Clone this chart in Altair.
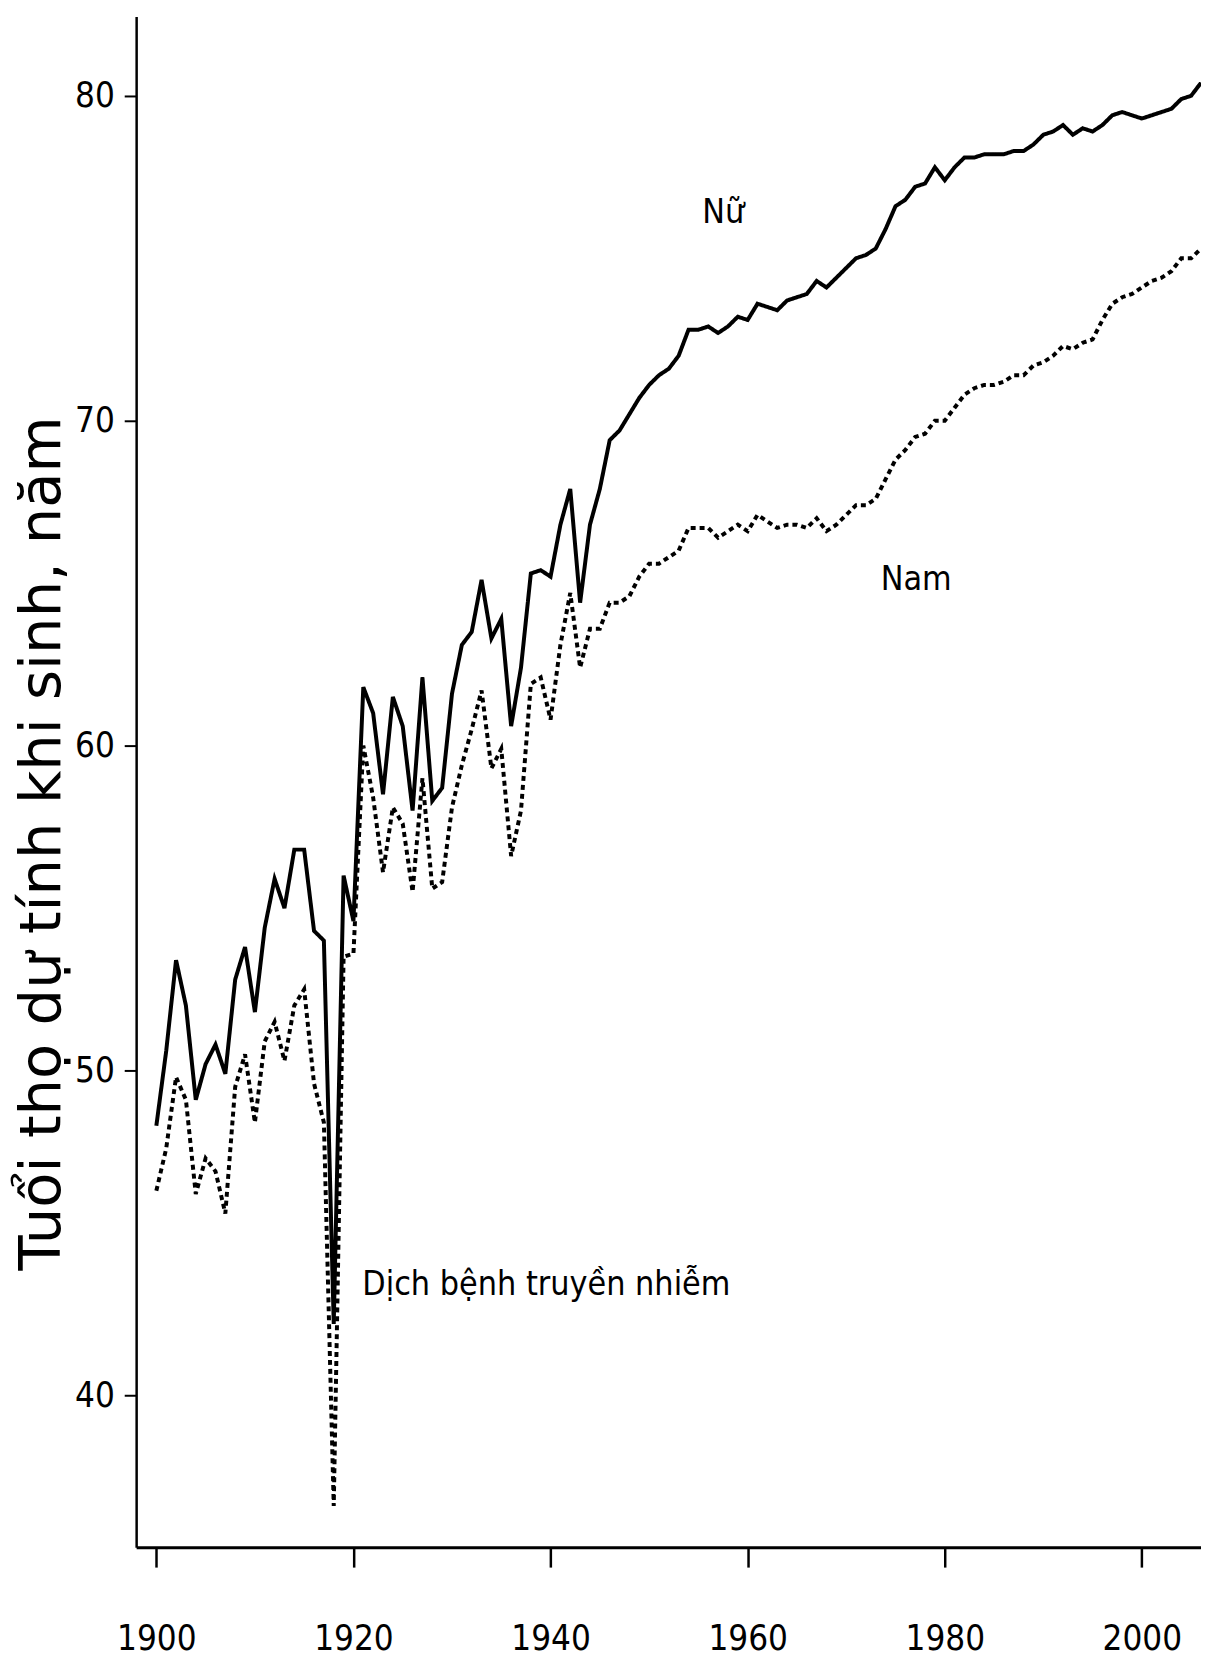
import altair as alt
import pandas as pd

years = list(range(1900, 2007))

female = [
    48.3, 50.6, 53.4, 52.0, 49.1, 50.2, 50.8, 49.9, 52.8, 53.8,
    51.8, 54.4, 55.9, 55.0, 56.8, 56.8, 54.3, 54.0, 42.2, 56.0,
    54.6, 61.8, 61.0, 58.5, 61.5, 60.6, 58.0, 62.1, 58.3, 58.7,
    61.6, 63.1, 63.5, 65.1, 63.3, 63.9, 60.6, 62.4, 65.3, 65.4,
    65.2, 66.8, 67.9, 64.4, 66.8, 67.9, 69.4, 69.7, 70.2, 70.7,
    71.1, 71.4, 71.6, 72.0, 72.8, 72.8, 72.9, 72.7, 72.9, 73.2,
    73.1, 73.6, 73.5, 73.4, 73.7, 73.8, 73.9, 74.3, 74.1, 74.4,
    74.7, 75.0, 75.1, 75.3, 75.9, 76.6, 76.8, 77.2, 77.3, 77.8,
    77.4, 77.8, 78.1, 78.1, 78.2, 78.2, 78.2, 78.3, 78.3, 78.5,
    78.8, 78.9, 79.1, 78.8, 79.0, 78.9, 79.1, 79.4, 79.5, 79.4,
    79.3, 79.4, 79.5, 79.6, 79.9, 80.0, 80.4,
]

male = [
    46.3, 47.6, 49.8, 49.1, 46.2, 47.3, 46.9, 45.6, 49.5, 50.5,
    48.4, 50.9, 51.5, 50.3, 52.0, 52.5, 49.6, 48.4, 36.6, 53.5,
    53.6, 60.0, 58.4, 56.1, 58.1, 57.6, 55.5, 59.0, 55.6, 55.8,
    58.1, 59.4, 60.5, 61.7, 59.3, 59.9, 56.6, 58.0, 61.9, 62.1,
    60.8, 63.1, 64.7, 62.4, 63.6, 63.6, 64.4, 64.4, 64.6, 65.2,
    65.6, 65.6, 65.8, 66.0, 66.7, 66.7, 66.7, 66.4, 66.6, 66.8,
    66.6, 67.1, 66.9, 66.7, 66.8, 66.8, 66.7, 67.0, 66.6, 66.8,
    67.1, 67.4, 67.4, 67.6, 68.2, 68.8, 69.1, 69.5, 69.6, 70.0,
    70.0, 70.4, 70.8, 71.0, 71.1, 71.1, 71.2, 71.4, 71.4, 71.7,
    71.8, 72.0, 72.3, 72.2, 72.4, 72.5, 73.1, 73.6, 73.8, 73.9,
    74.1, 74.3, 74.4, 74.6, 75.0, 75.0, 75.3,
]

series_names = ["Nữ", "Nam"]

x_ticks = [1900, 1920, 1940, 1960, 1980, 2000]
y_ticks = [40, 50, 60, 70, 80]

label_texts = ["Nữ", "Nam", "Dịch bệnh truyền nhiễm"]
label_years = [1955.4, 1973.5, 1920.9]
label_values = [76.4, 65.1, 43.4]

y_title = "Tuổi thọ dự tính khi sinh, năm"

df = pd.DataFrame({
    "year": years * 2,
    "value": female + male,
    "sex": [series_names[0]] * len(years) + [series_names[1]] * len(years),
})
labels_df = pd.DataFrame({"text": label_texts, "year": label_years, "value": label_values})

narrow = "DejaVu Sans Condensed, Liberation Sans Narrow, sans-serif"

x_scale = alt.Scale(domain=[1897.95, 2006], nice=False, zero=False)
y_scale = alt.Scale(domain=[35.33, 82.44], nice=False, zero=False)

lines = alt.Chart(df).mark_line(strokeWidth=4, color="black").encode(
    x=alt.X("year:Q", scale=x_scale,
            axis=alt.Axis(values=x_ticks, format="d", title=None, grid=False,
                          tickSize=20, tickWidth=2.5, labelPadding=72,
                          labelBaseline="middle", domainWidth=3)),
    y=alt.Y("value:Q", scale=y_scale,
            axis=alt.Axis(values=y_ticks, title=y_title, grid=False,
                          tickSize=12, tickWidth=2, labelPadding=10,
                          domainWidth=2.5,
                          titleX=-94, titleY=832, titleAngle=270,
                          titleAlign="center", titleBaseline="middle",
                          titleFont="DejaVu Sans", titleFontSize=58,
                          titleFontWeight="normal", titleColor="black")),
    strokeDash=alt.StrokeDash("sex:N",
                              scale=alt.Scale(domain=series_names,
                                              range=[[1, 0], [5, 4]]),
                              legend=None),
    detail="sex:N",
)

texts = alt.Chart(labels_df).mark_text(
    align="left", baseline="middle", font=narrow, fontSize=34, color="black"
).encode(
    x=alt.X("year:Q", scale=x_scale),
    y=alt.Y("value:Q", scale=y_scale),
    text="text:N",
)

chart = alt.layer(lines, texts).properties(
    width=1072,
    height=1541,
    autosize=alt.AutoSizeParams(type="none"),
    padding={"left": 129, "top": 3, "right": 0, "bottom": 113},
    background="white",
).configure_view(stroke=None).configure_axis(
    domainColor="black", tickColor="black", labelColor="black",
    labelFont=narrow, labelFontSize=35,
)

chart.save("out.html", embed_options={"renderer": "svg", "actions": False})
